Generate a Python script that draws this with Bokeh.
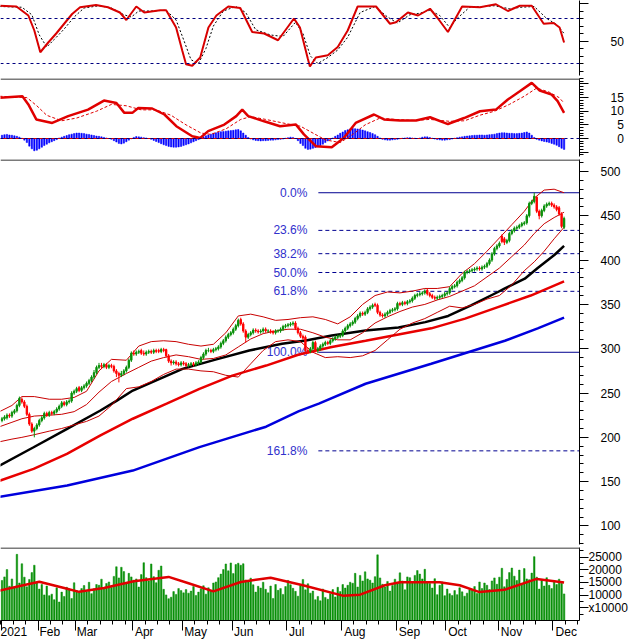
import numpy as np
from bokeh.plotting import figure
from bokeh.layouts import column
from bokeh.models import ColumnDataSource, FixedTicker, Span, Range1d
from bokeh.embed import file_html
from bokeh.resources import INLINE
from bokeh.core.properties import value

# ---------------- daily bars (index 0 = first visible session, Jan 2021) ----------------
open_px = [
    219,221,222,225,224,228,230,236,243,240,
    235,226,215,207,210,214,219,222,227,225,
    228,227,229,232,235,239,237,240,241,250,
    252,256,253,256,258,261,264,268,273,279,
    281,280,282,279,281,280,275,272,270,272,
    275,279,287,295,294,296,298,295,294,296,
    297,296,298,298,297,299,299,292,286,284,
    285,283,282,284,283,281,282,283,282,284,
    285,290,294,298,298,297,299,300,302,306,
    309,313,316,318,322,326,333,328,320,313,
    316,318,321,320,319,320,322,320,320,319,
    318,320,320,322,325,326,327,328,329,323,
    318,314,313,298,297,300,307,298,300,303,
    305,307,306,309,311,313,314,315,320,323,
    326,328,330,334,337,340,339,341,345,347,
    350,349,341,338,337,339,341,343,344,345,
    351,350,352,351,353,354,357,360,361,362,
    363,366,362,360,358,357,358,359,360,362,
    363,368,370,371,375,377,380,386,387,388,
    389,390,391,390,392,393,396,400,407,413,
    416,427,424,420,422,430,433,436,437,439,
    441,442,450,464,466,471,455,450,456,461,
    463,464,462,460,459,452,437]
high_px = [
    223,225,227,227,230,232,238,246,245,242,
    237,228,217,212,216,221,224,229,229,230,
    230,231,234,237,241,241,242,243,252,254,
    257,258,258,260,263,266,270,276,281,284,
    284,284,284,283,283,282,277,274,275,277,
    281,289,297,298,298,299,300,298,298,299,
    299,300,300,300,301,301,300,294,288,287,
    287,285,286,286,285,284,285,285,286,287,
    292,296,300,301,300,301,302,304,308,311,
    315,318,320,324,328,334,335,330,322,318,
    320,323,323,322,322,324,324,322,322,321,
    322,322,324,327,328,329,330,331,331,325,
    320,316,315,301,302,309,309,302,305,307,
    309,309,311,313,315,316,317,322,325,328,
    330,332,336,339,342,342,343,347,349,351,
    352,351,343,340,341,343,345,346,347,353,
    353,354,354,355,356,359,362,363,364,365,
    367,368,364,362,360,360,361,362,364,365,
    370,372,373,377,379,382,388,389,390,391,
    392,393,393,394,395,398,402,409,415,418,
    421,429,426,424,432,435,438,439,441,443,
    444,452,466,468,476,472,457,458,463,465,
    466,466,464,462,461,454,449]
low_px = [
    217,219,220,222,222,226,228,234,238,233,
    224,213,205,200,208,212,217,220,223,223,
    225,225,227,230,233,235,235,238,239,248,
    250,251,251,254,256,259,262,266,271,277,
    277,278,277,277,278,273,268,262,268,270,
    273,277,285,292,292,294,293,292,292,294,
    294,294,295,295,295,296,290,284,281,282,
    281,280,280,281,279,279,280,280,280,282,
    283,288,292,296,295,295,297,298,300,304,
    307,311,314,316,320,324,326,318,307,311,
    314,316,318,317,317,318,318,318,317,316,
    316,318,318,320,323,324,325,326,321,316,
    312,310,296,294,295,298,296,295,298,301,
    303,304,304,307,309,311,312,313,318,321,
    324,326,328,332,335,337,337,339,343,345,
    347,339,336,335,335,337,339,341,342,343,
    348,348,349,349,351,352,355,358,359,360,
    361,360,358,356,355,355,356,357,358,360,
    361,366,368,369,373,375,378,384,385,386,
    387,388,388,388,390,391,394,398,405,411,
    414,419,417,418,420,428,431,434,435,437,
    439,440,448,462,464,453,446,448,454,459,
    461,460,458,455,450,436,435]
close_px = [
    221,223,225,224,228,230,236,244,240,235,
    226,215,207,210,214,219,222,227,225,228,
    227,229,232,235,239,237,240,241,250,252,
    255,253,256,258,261,264,268,273,279,281,
    280,282,279,281,280,275,272,270,272,275,
    279,287,295,294,296,297,295,294,296,297,
    296,298,297,297,299,298,292,286,284,285,
    283,282,284,283,281,282,283,282,284,285,
    290,294,298,298,297,299,300,302,306,309,
    313,316,318,322,326,332,328,320,313,316,
    318,321,320,319,320,322,320,320,319,318,
    320,320,322,325,326,327,328,329,323,318,
    314,312,298,297,300,307,298,300,303,305,
    307,306,309,311,313,314,315,320,323,326,
    328,330,334,337,340,339,341,345,347,349,
    349,341,338,337,339,341,343,344,345,351,
    350,352,351,353,354,357,360,361,362,363,
    365,362,360,358,357,358,359,360,362,363,
    368,370,371,375,377,380,386,387,388,389,
    390,391,390,392,393,396,400,407,413,416,
    419,421,420,422,430,433,436,437,439,441,
    442,450,464,466,472,455,450,456,461,463,
    464,462,460,457,452,438,447]
volume = [
    15800,17200,20100,13500,16400,12900,26100,14800,22400,17100,
    13300,16200,18900,21800,14800,12400,14200,10100,13600,9800,
    10400,8200,12900,7300,11200,9500,13100,12400,8700,14900,
    11800,10900,12600,13800,11300,15100,10600,12500,14200,13900,
    16300,12800,14600,15200,13100,17400,21200,16800,21000,19300,
    14800,18600,17200,15900,16400,13200,18100,22800,16900,15600,
    22300,17300,14900,19800,21500,12300,10100,8600,9200,11400,
    10300,12600,11800,10900,12200,10800,11600,13400,9900,11200,
    12500,13700,10400,12900,11600,14800,15200,16900,18300,20100,
    22300,19600,22700,18500,22100,22600,21800,22400,16000,15300,
    16700,14100,11200,13500,12800,15100,12300,10900,13600,8700,
    14200,11900,12600,10300,13400,15800,14100,12700,11500,9600,
    13800,16200,12100,14500,10800,11600,8200,9500,7800,12400,
    9100,8400,10600,12200,9300,13100,11400,14200,12800,13900,
    15100,14700,18600,13200,17800,15600,19200,16400,15900,14800,
    17300,25900,16800,14300,13200,15400,11600,13800,16300,14900,
    18800,15600,12100,17200,16900,15300,17800,19700,18300,16400,
    20200,15100,14600,12800,16500,10200,13900,15200,9800,12400,
    10600,9900,11800,10200,12900,11300,9600,10800,12100,11900,
    13400,10700,15200,12600,14800,13900,12200,15600,16800,14300,
    17100,20600,13300,16200,18900,20700,17500,15800,19900,14600,
    20500,16400,16100,18700,25200,17100,12400,15800,13600,16900,
    13900,12600,15800,14200,16300,14700,10500]
macd_hist = [
    1.2,1.4,1.5,1.3,1.2,1.0,0.8,0.5,0.1,-0.6,
    -1.5,-2.8,-3.8,-4.5,-4.3,-3.8,-3.2,-2.6,-2.1,-1.6,
    -1.2,-0.8,-0.4,0.2,0.5,0.8,1.1,1.4,1.6,1.8,
    2.0,2.0,1.9,1.8,1.6,1.5,1.3,1.1,0.9,0.8,
    0.6,0.4,0.2,0.0,-0.3,-0.8,-1.3,-1.8,-2.0,-1.7,
    -1.2,-0.6,-0.1,0.4,0.7,0.6,0.5,0.3,0.2,0.0,
    -0.3,-0.7,-1.1,-1.5,-1.9,-2.3,-2.6,-2.9,-3.1,-3.2,
    -3.2,-3.1,-2.9,-2.6,-2.3,-2.0,-1.6,-1.2,-0.8,-0.4,
    0.2,0.6,1.0,1.3,1.6,1.9,2.1,2.3,2.5,2.6,
    2.7,2.8,2.9,3.0,3.2,3.3,2.8,2.0,1.2,0.4,
    -0.2,-0.5,-0.7,-0.8,-0.9,-0.8,-0.8,-0.7,-0.6,-0.6,
    -0.5,-0.4,-0.3,-0.2,0.1,0.3,0.5,0.4,0.0,-0.8,
    -1.8,-2.6,-3.6,-4.0,-3.9,-3.6,-3.3,-3.0,-2.6,-2.1,
    -1.5,-0.9,-0.4,0.2,0.8,1.3,1.9,2.4,2.9,3.2,
    3.5,3.7,3.6,3.5,3.3,3.1,2.8,2.5,2.2,1.8,
    1.4,0.8,0.2,-0.3,-0.5,-0.6,-0.6,-0.5,-0.4,-0.3,
    -0.1,0.1,0.2,0.3,0.3,0.2,0.1,0.0,0.2,0.5,
    0.6,0.6,0.4,0.1,-0.2,-0.4,-0.5,-0.6,-0.6,-0.5,
    -0.4,-0.2,0.1,0.3,0.5,0.6,0.8,0.9,1.0,1.1,
    1.2,1.2,1.3,1.3,1.2,1.3,1.4,1.5,1.6,1.8,
    2.0,2.1,2.1,2.0,1.9,1.9,1.8,1.8,1.9,2.0,
    2.2,2.4,2.0,1.2,0.4,-0.3,-0.6,-0.9,-1.1,-1.3,
    -1.5,-1.8,-2.1,-2.5,-3.0,-3.6,-4.0]

# ---------------- indicator lines (vertices at bar index) ----------------
ma_black_x = [-1, 12.7, 26.2, 39.4, 46.2, 52.6, 63.4, 72.6, 86.2, 99.4, 112.6, 122.2, 132.6,
              146.2, 159.4, 170.2, 179.4, 188.6, 199.4, 202.2, 210.2, 215.4, 222.2, 226]
ma_black_y = [168, 188.8, 209.6, 230, 241.5, 252.8, 266, 277.3, 288, 298, 305.5, 309.3, 315,
              320.5, 324, 330, 337, 349, 364, 368, 379, 391, 406, 416]
ma_red_x = [-1, 12.7, 26.1, 39.4, 52.6, 66.2, 79.4, 92.6, 106.2, 119.4, 132.6, 146.2, 159.4,
            172.6, 186.2, 199.4, 212.6, 226]
ma_red_y = [151, 164.4, 181.4, 202, 221, 238, 254.7, 269.7, 281, 293.5, 302, 309, 316,
            323, 334, 347, 360, 376]
ma_blue_x = [-1, 26.2, 52.6, 79.4, 106.2, 119.4, 127.4, 146.2, 172.6, 187.4, 202.2, 215.4, 226]
ma_blue_y = [133, 145.6, 162.5, 189, 212, 229.5, 238, 260.5, 283, 296, 309, 323, 335]

bb_x = [-1, 4, 8, 13, 19, 24, 29, 34, 39, 44, 50, 55, 60, 65, 70, 75, 80, 85, 90, 95, 100,
        105, 110, 115, 120, 125, 130, 135, 140, 145, 150, 155, 160, 165, 170, 175, 180, 185,
        190, 195, 200, 205, 210, 214, 218, 222, 226]
bb_upper = [229, 236, 246, 246, 243, 243, 245, 252, 275, 288, 287, 303, 308, 309, 308, 305, 303,
            305, 318, 337, 339, 336, 332, 333, 335, 336, 333, 328, 336, 350, 360, 364, 363, 365,
            368, 368, 370, 385, 396, 410, 425, 440, 455, 470, 479, 480, 476]
bb_mid = [212, 217, 221, 224, 225, 226, 229, 237, 251, 263, 272, 279, 286, 290, 293, 291, 288,
          289, 293, 302, 311, 317, 320, 322, 322, 318, 313, 310, 310, 318, 329, 336, 342, 347,
          350, 355, 359, 365, 371, 381, 391, 404, 417, 430, 441, 448, 454]
bb_lower = [195, 198, 200, 203, 207, 210, 214, 218, 224, 236, 255, 257, 263, 271, 277, 277, 275,
            274, 270, 268, 283, 298, 308, 310, 308, 296, 290, 291, 290, 292, 298, 310, 322, 329,
            334, 341, 348, 346, 350, 356, 360, 372, 388, 398, 410, 424, 437]

stoch_k_x = [-1, 5.8, 10.6, 13, 15.4, 18.6, 21.8, 25, 28.2, 31.4, 37.8, 42.6, 47.4, 50, 54, 57.2,
             63.6, 66, 70, 72.5, 74, 76.5, 79.7, 83, 86.2, 91, 95.8, 100.6, 105.4, 111, 117.4,
             119.8, 123, 123.8, 126.2, 131, 135, 139, 143, 150.4, 156, 158.4, 163.2, 167.3,
             172.1, 175.3, 179.3, 185, 192.2, 198.6, 203.4, 208.2, 213, 217.8, 221.8, 224.2, 226]
stoch_k = [97, 96, 84, 64, 35, 48, 60, 73, 86, 95, 98, 95, 88, 78, 96, 88,
           91, 91, 68, 37, 19, 17, 28, 68, 84, 96, 94, 62, 60, 51, 80,
           68, 26, 16, 28, 31, 42, 64, 96, 96, 73, 75, 88, 84,
           93, 80, 62, 96, 95, 99, 90, 97, 97, 73, 74, 68, 48]
stoch_d_x = [-1, 8, 12, 15, 18, 21, 25, 29, 33, 39, 44, 49, 52, 55, 60, 66, 70, 73, 76, 79, 82,
             85, 89, 94, 98, 102, 108, 113, 118, 121, 124, 127, 131, 135, 139, 144, 150, 155,
             159, 164, 168, 172, 176, 180, 183, 188, 198, 204, 209, 214, 219, 223, 226]
stoch_d = [96, 95, 85, 58, 42, 52, 66, 82, 94, 97, 94, 85, 82, 90, 90, 91, 78, 52, 25, 20, 40,
           70, 90, 96, 88, 65, 58, 56, 75, 60, 30, 20, 28, 38, 55, 88, 96, 82,
           74, 85, 87, 91, 84, 68, 80, 95, 97, 93, 95, 96, 80, 72, 60]

macd_x = [-1, 8.2, 10.6, 13.8, 20.2, 26.6, 34.6, 41, 46, 49.2, 52.4, 54.8, 60.4, 65.3, 70.1,
          76.5, 79.7, 82.9, 89.4, 94.2, 96.6, 99, 105.4, 111.8, 118.2, 121.4, 126.2, 132.6,
          137.4, 142.2, 149.6, 153.6, 160, 166.5, 172.1, 179.3, 185.8, 192.2, 198.6, 203.4,
          208.2, 213, 216.2, 221, 223.4, 226]
macd_line = [14.9, 15.5, 12.5, 7, 5.7, 8.2, 10.6, 13.9, 13, 9.4, 9.4, 11.2, 11, 8.8, 4.5,
             0.8, 0.2, 2.7, 5.1, 8.2, 10.6, 8.2, 6.3, 4.5, 5.1, 1.5, -2.8, -3.2,
             0.2, 5.7, 8.8, 7, 6.6, 6.6, 7.8, 5.3, 7.5, 10, 10.6, 14.3,
             17.3, 20.4, 17.6, 16.1, 13.7, 9.4]
signal_x = [-1, 10, 14, 18, 24, 30, 38, 44, 50, 56, 62, 68, 74, 80, 84, 90, 96, 100, 106, 114,
            120, 124, 130, 136, 141, 146, 152, 158, 166, 172, 180, 186, 192, 198, 204, 210, 215,
            220, 224, 226]
signal_line = [15.5, 15, 12, 8.5, 6.5, 7.5, 10, 12.5, 12, 10.5, 10.5, 8.5, 5, 2, 1.5, 3.5, 7, 8,
               7, 5.5, 4.5, 2.5, -0.5, -1.5, 1.5, 5, 7.5, 7, 6.6, 7, 6.3, 6.5, 8.5, 10, 12.5,
               15.5, 18.5, 17, 15, 13]

vol_ma_x = [-1, 9, 15, 25, 31, 41, 53, 67, 75, 85, 96, 108, 121, 137, 144, 154, 160, 176, 184,
            192, 202, 215, 226]
vol_ma = [11800, 14000, 15300, 12800, 11300, 12800, 15500, 17200, 14700, 11500, 15200, 16900,
          13900, 9800, 10200, 13900, 15100, 15100, 13900, 11200, 12100, 16400, 15000]
volume_unit_label = "x10000"

# Fibonacci retracement
fib_high = 476
fib_low = 296
fib_ratios = [0.0, 0.236, 0.382, 0.5, 0.618, 1.0, 1.618]
fib_labels = ["0.0%", "23.6%", "38.2%", "50.0%", "61.8%", "100.0%", "161.8%"]
fib_start_index = 127.2
fib_label_index = 122.8

# months (first session index of each month)
month_names = ["Feb", "Mar", "Apr", "May", "Jun", "Jul", "Aug", "Sep", "Oct", "Nov", "Dec"]
month_first_bar = [15, 30, 53, 73, 93, 115, 137, 159, 179, 200, 222]
year_label = "2021"

# ---------------- styling ----------------
FONT = "Liberation Sans"
GREEN = "#0A900A"
RED = "#FF0000"
XR = Range1d(-0.6, 232.2)


def make_fig(h, y0, y1, top, bottom, x_axis=False):
    p = figure(width=630, height=h, x_range=XR, y_range=Range1d(y0, y1),
               output_backend="svg", toolbar_location=None, tools="",
               y_axis_location="right", x_axis_location="below" if x_axis else None,
               min_border_left=0, min_border_right=48,
               min_border_top=top, min_border_bottom=bottom)
    p.grid.visible = False
    p.outline_line_color = None
    p.background_fill_color = "white"
    p.border_fill_color = "white"
    for ax in p.yaxis:
        ax.axis_line_color = "black"
        ax.major_tick_line_color = "black"
        ax.minor_tick_line_color = "black"
        ax.major_tick_out = 9
        ax.major_tick_in = 0
        ax.minor_tick_out = 4
        ax.minor_tick_in = 0
        ax.major_label_text_font = FONT
        ax.major_label_text_font_size = "12px"
        ax.major_label_text_color = "black"
    return p


def separator(p, y):
    p.add_layout(Span(location=y, dimension="width", line_color="#7A7A7A", line_width=3))


# ---- Stochastic panel ----
p1 = make_fig(76, 4, 104, 0, 1)
p1.yaxis.ticker = FixedTicker(ticks=[50, 100], minor_ticks=list(range(10, 101, 10)))
p1.yaxis.major_label_overrides = {100: ""}
p1.yaxis.major_label_standoff = 22
for lv in (80, 20):
    p1.add_layout(Span(location=lv, dimension="width", line_color="#000080",
                       line_width=1, line_dash="3 3"))
p1.line(stoch_d_x, stoch_d, line_color="black", line_width=1, line_dash="2 2")
p1.line(stoch_k_x, stoch_k, line_color="#D80000", line_width=2)

# ---- MACD panel ----
p2 = make_fig(81, -6.6, 22.0, 2, 1)
p2.yaxis.ticker = FixedTicker(ticks=[-5, 0, 5, 10, 15, 20], minor_ticks=list(range(-6, 23)))
p2.yaxis.major_label_overrides = {-5: "", 20: "", 0: "\u00a0\u00a00", 5: "\u00a0\u00a05"}
p2.yaxis.major_label_standoff = 22
separator(p2, 22.0)
p2.add_layout(Span(location=0, dimension="width", line_color="#000080",
                   line_width=1, line_dash="3 3"))
p2.vbar(x=list(range(len(macd_hist))), top=macd_hist, bottom=0, width=0.55,
        fill_color="#0000FF", line_color="#0000FF", line_width=0.5)
p2.line([-1, len(macd_hist) - 1], [0, 0], line_color="#D00000", line_width=1)
p2.line(signal_x, signal_line, line_color="#E00000", line_width=1, line_dash="3 2")
p2.line(macd_x, macd_line, line_color="#E00000", line_width=2.5)

# ---- Price panel ----
p3 = make_fig(389, 79.1, 513.5, 2, 2)
p3.yaxis.ticker = FixedTicker(ticks=list(range(100, 501, 50)), minor_ticks=list(range(80, 511, 10)))
p3.yaxis.major_label_standoff = 12
separator(p3, 513.5)

o = np.array(open_px, dtype=float)
c = np.array(close_px, dtype=float)
up = c >= o
cs = ColumnDataSource(dict(
    x=list(range(len(close_px))), high=high_px, low=low_px,
    top=np.maximum(o, c), bottom=np.minimum(o, c),
    color=[GREEN if u else RED for u in up]))

# fibonacci levels
levels = [fib_high - r * (fib_high - fib_low) for r in fib_ratios]
for r, lv in zip(fib_ratios, levels):
    solid = r in (0.0, 1.0)
    p3.segment(x0=fib_start_index, y0=lv, x1=XR.end + 5, y1=lv, line_color="#000090",
               line_width=1, line_dash="solid" if solid else "4 3")
p3.text(x=[fib_label_index] * len(levels), y=levels, text=fib_labels,
        text_align="right", text_baseline="middle", text_font=value(FONT),
        text_font_size="12px", text_color="#3030CC")

p3.line(ma_blue_x, ma_blue_y, line_color="#0000DD", line_width=2.5)
p3.line(ma_red_x, ma_red_y, line_color="#E80000", line_width=2.5)
p3.line(ma_black_x, ma_black_y, line_color="black", line_width=2.5)
for band in (bb_upper, bb_mid, bb_lower):
    p3.line(bb_x, band, line_color="#C80000", line_width=1)

p3.segment(x0="x", y0="high", x1="x", y1="low", color="color", line_width=1, source=cs)
p3.vbar(x="x", top="top", bottom="bottom", width=0.55, fill_color="color",
        line_color="color", line_width=1, source=cs)

# ---- Volume panel ----
p4 = make_fig(95, 0, 28800, 1, 0, x_axis=True)
p4.yaxis.ticker = FixedTicker(ticks=[5000, 10000, 15000, 20000, 25000],
                              minor_ticks=list(range(2500, 28800, 2500)))
p4.yaxis.major_label_overrides = {5000: volume_unit_label}
p4.yaxis.major_label_standoff = 0
separator(p4, 28800)
p4.vbar(x=list(range(len(volume))), top=volume, bottom=0, width=0.62,
        fill_color=GREEN, line_color=GREEN, line_width=0.5)
p4.line(vol_ma_x, vol_ma, line_color="#E00000", line_width=2.5)

pad = {"Feb": 7, "Mar": 7, "Apr": 7, "May": 8, "Jun": 7, "Jul": 6,
       "Aug": 8, "Sep": 8, "Oct": 7, "Nov": 8, "Dec": 8}
month_ticks = [b - 0.5 for b in month_first_bar]
bounds = [-5.5] + month_ticks + [XR.end + 5]
weekly = []
for a, b in zip(bounds[:-1], bounds[1:]):
    k = a + 5
    while k < b - 2:
        if k > XR.start:
            weekly.append(k)
        k += 5
xticks = [0.0] + month_ticks
xa = p4.xaxis[0]
xa.ticker = FixedTicker(ticks=xticks, minor_ticks=weekly)
overrides = {0.0: year_label}
for t, name in zip(month_ticks, month_names):
    overrides[t] = "\u00a0" * pad[name] + name
xa.major_label_overrides = overrides
xa.axis_line_color = "black"
xa.major_tick_line_color = "black"
xa.minor_tick_line_color = "black"
xa.major_tick_out = 10
xa.major_tick_in = 0
xa.minor_tick_out = 4
xa.minor_tick_in = 0
xa.major_label_standoff = -6
xa.major_label_text_font = FONT
xa.major_label_text_font_size = "12px"
xa.major_label_text_color = "black"

layout = column(p1, p2, p3, p4, spacing=0)
open("out.html", "w").write(file_html(layout, INLINE))
